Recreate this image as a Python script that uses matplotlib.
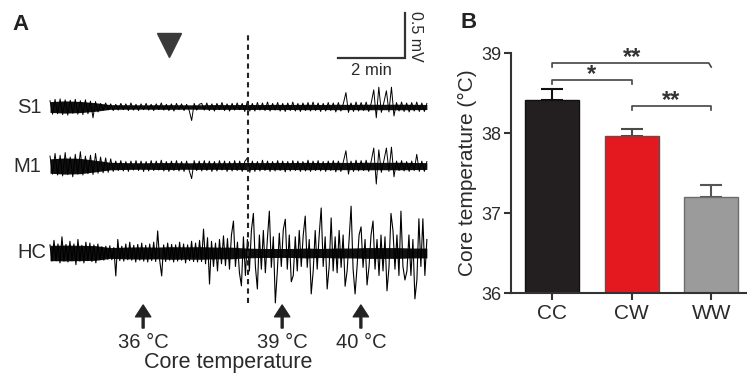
import numpy as np
import matplotlib
matplotlib.use("Agg")
import matplotlib.pyplot as plt

plt.rcParams['font.family'] = ['Liberation Sans', 'DejaVu Sans']

# ---- panel A: traces, values in microvolts, evenly spaced over the record ----
record_min = 11.25

s1_uv = [70, -80, 85, -75, 90, -85, 80, -90, 75, -70, 85, -80, 70, -85, 80, -75, 65, -120, 60, -55,
         40, -35, 45, -30, 35, -40, 30, -35, 40, -30, 35, -40, 45, -35, 30, -40, 35, -30, 40, -35,
         30, -40, 35, -30, 45, -35, 30, -40, 35, -45, 40, -30, 35, -40, 30, -35, -150, 40, -35, 30,
         40, -35, 45, -40, 35, -45, 40, -30, 50, -40, 35, -45, 40, -35, 45, -30, 40, -50, 60, -45,
         40, -45, 50, -35, 45, -40, 55, -45, 40, -35, 50, -45, 40, -50, 45, -40, 55, -45, 40, -50,
         45, -40, 50, -45, 55, -40, 45, -50, 40, -45, 50, -40, 45, -55, 50, -45, 40, 160, -60, 45,
         -50, 55, -45, 50, -40, 55, -50, 45, 190, -120, 220, -60, 50, 180, -55, 220, -100, 50, -45, 55,
         -50, 45, -55, 50, -45, 55, -50, 45, -50, 40]

m1_uv = [110, -90, 140, -100, 120, -110, 150, -95, 100, -120, 130, -90, 160, -100, 110, -85, 120, -95, 140, -80,
         100, -75, 90, -70, 80, -60, 55, -50, 60, -55, 50, -60, 55, -45, 60, -50, 55, -60, 50, -55,
         60, -50, 55, -45, 65, -55, 50, -60, 55, -50, 60, -55, 50, -60, 55, -45, -140, 60, -50, 55,
         -55, 60, -50, 55, -60, 50, -55, 60, -45, 55, -60, 50, -55, 60, -50, 55, -60, 50, 90, -70,
         55, -60, 50, -55, 65, -50, 55, -60, 50, -55, 60, -50, 55, -65, 50, -55, 60, -50, 55, -60,
         50, -55, 65, -60, 55, -50, 60, -55, 50, -60, 55, -50, 60, -65, 55, -60, 50, 170, -90, 55,
         -60, 65, -55, 60, -50, 65, -60, 55, 200, -200, 180, -70, 60, 200, -60, 210, -120, 55, -50, 60,
         -55, 50, -60, 55, -50, 130, -60, 55, -60, 50]

hc_uv = [90, -90, 140, -85, 100, -110, 180, -90, 95, -100,
         130, -85, 100, -130, 150, -90, 85, -110, 120, -85,
         110, -95, 90, -110, 100, -75, 70, -80, 75, -70,
         80, -75, 60, -255, 150, -85, 75, -90, 100, -75,
         120, -80, 85, -100, 95, -80, 110, -90, 85, -100,
         100, -85, 120, -95, 245, -80, -255, 90, -95, 110,
         -80, 95, -100, 90, -90, 120, -80, 100, -110, 90,
         -85, 130, -95, 110, -100, 140, -95, 265, -120, 170,
         -345, 130, -150, 110, -200, 150, -120, 190, -140, 160,
         -180, 200, 355, -150, 120, -220, -365, 180, -250, 150,
         -200, 250, 440, -150, -400, 200, -180, 250, -220, 150,
         465, -160, 180, -555, -200, 220, -150, 260, 375, -180,
         200, -320, -250, 180, -200, 250, -150, 200, 410, -160,
         150, -455, -200, 250, -180, 200, 500, -150, 180, -400,
         -150, 390, -200, 180, -220, 250, -160, 200, -370, -200,
         150, 520, -180, -455, -150, 200, 290, -160, 150, -355,
         -150, 200, 355, -180, 150, -250, 200, -200, 180, -420,
         -160, 440, 250, -180, 200, -250, 465, -150, -300, -200,
         200, -250, 150, -510, -300, 380, -150, 380, -250, 150]

# dense core of each trace (half-width, microvolts), sampled coarsely
s1_core = [60, 68, 62, 48, 26, 25, 24, 25, 26, 24, 25, 27, 26, 28, 27, 29, 28, 30, 28, 30,
           29, 31, 30, 31, 30, 28]
m1_core = [80, 90, 85, 65, 42, 38, 36, 38, 39, 36, 38, 37, 38, 40, 38, 40, 39, 41, 39, 41,
           40, 42, 41, 42, 40, 38]
hc_core = [85, 88, 85, 82, 60, 65, 68, 65, 70, 68, 70, 65, 65, 55, 50, 50, 50, 55, 50, 55,
           55, 60, 60, 60, 55, 55]

trace_names = ["S1", "M1", "HC"]
trace_offsets = [3.0, 2.344, 1.378]     # mV, vertical stacking
trace_widths = [0.7, 0.7, 0.8]
label_x = [-0.25, -0.25, -0.12]

drug_time = 3.55                        # triangle marker
switch_time = 5.91                      # dashed line
temp_times = [2.78, 6.93, 9.28]
temp_labels = ["36 °C", "39 °C", "40 °C"]

# ---- panel B ----
groups = ["CC", "CW", "WW"]
means = [38.41, 37.96, 37.20]
sems = [0.14, 0.09, 0.15]
bar_colors = ["#231f20", "#e3191f", "#9b9b9b"]
edge_colors = ["#111111", "#6a4a4a", "#6c6c6c"]
err_colors = ["#111111", "#4a4a4a", "#555555"]
comparisons = [(0, 2, 38.875, "**"), (0, 1, 38.66, "*"), (1, 2, 38.34, "**")]

txt = "#2a2a2a"
fig = plt.figure(figsize=(7.47, 3.77), dpi=100)

axA = fig.add_axes([0, 0, 460 / 747, 1])
axA.set_xlim(-1.4925, 12.239)
axA.set_ylim(0, 4.1889)
axA.axis("off")

for name, vals, core, off, lw, lx in zip(trace_names, [s1_uv, m1_uv, hc_uv],
                                         [s1_core, m1_core, hc_core], trace_offsets,
                                         trace_widths, label_x):
    tc = np.linspace(0, record_min, len(core))
    c = np.array(core) / 1000.0
    axA.fill_between(tc, off - c, off + c, color="#111111", lw=0)
    t = np.linspace(0, record_min, len(vals))
    axA.plot(t, off + np.array(vals) / 1000.0, color="black", lw=lw)
    axA.text(lx, off, name, ha="right", va="center", fontsize=14.5, color=txt)

axA.plot([switch_time, switch_time], [0.822, 3.833], color="#222222", lw=1.5,
         ls=(0, (2.5, 2)))
axA.plot([drug_time], [3.689], marker="v", markersize=17, color="#3a3a3a", ls="none")

for tt, lab in zip(temp_times, temp_labels):
    axA.annotate("", xy=(tt, 0.80), xytext=(tt, 0.544),
                 arrowprops=dict(width=1.4, headwidth=11, headlength=8.5,
                                 color="#222222", shrink=0))
    axA.text(tt, 0.378, lab, ha="center", va="center", fontsize=14.5, color=txt)
axA.text(5.31, 0.156, "Core temperature", ha="center", va="center", fontsize=15.5, color=txt)

# scale bar
axA.plot([8.6, 10.6, 10.6], [3.544, 3.544, 4.044], color="#333333", lw=1.6,
         solid_joinstyle="miter")
axA.text(9.6, 3.411, "2 min", ha="center", va="center", fontsize=12, color=txt)
axA.text(10.92, 3.789, "0.5 mV", ha="center", va="center", rotation=270,
         fontsize=11.5, color=txt)

fig.text(12 / 747, 1 - 24 / 377, "A", fontsize=16, fontweight="bold", va="center",
         color="#222222")
fig.text(460 / 747, 1 - 22 / 377, "B", fontsize=16, fontweight="bold", va="center",
         color="#222222")

# ---- panel B axes ----
axB = fig.add_axes([511 / 747, 1 - 293 / 377, 236 / 747, 240 / 377])
x = np.arange(len(groups))
axB.bar(x, [m - 36 for m in means], bottom=36, width=0.68, color=bar_colors,
        edgecolor=edge_colors, linewidth=1.0, zorder=2)
for xi, m, e, ec in zip(x, means, sems, err_colors):
    axB.errorbar(xi, m, yerr=[[0], [e]], fmt="none", ecolor=ec, elinewidth=1.5,
                 capsize=8, capthick=1.5, zorder=1)
for a, b, y, star in comparisons:
    axB.plot([a, a, b - 0.03 * (b == 2 and a == 0), b], [y - 0.05, y, y, y - 0.05],
             color="#444444", lw=1.2, clip_on=False)
    axB.text((a + b) / 2, y - 0.01, star, ha="center", va="baseline",
             fontsize=17, fontweight="bold", color="#333333")

axB.set_xlim(-0.516, 2.45)
axB.set_ylim(36, 39)
axB.set_yticks([36, 37, 38, 39])
axB.set_xticks(x)
axB.set_xticklabels(groups)
axB.spines["top"].set_visible(False)
axB.spines["right"].set_visible(False)
for s in ["left", "bottom"]:
    axB.spines[s].set_linewidth(1.5)
    axB.spines[s].set_color("#333333")
axB.tick_params(axis="y", direction="out", length=5, width=1.5, color="#333333",
                labelsize=13, labelcolor=txt, pad=2)
axB.tick_params(axis="x", direction="out", length=5, width=1.5, color="#333333",
                labelsize=15, labelcolor=txt, pad=3)
axB.set_ylabel("Core temperature (°C)", fontsize=15, color=txt, labelpad=3)

fig.savefig("out.png", dpi=100)
